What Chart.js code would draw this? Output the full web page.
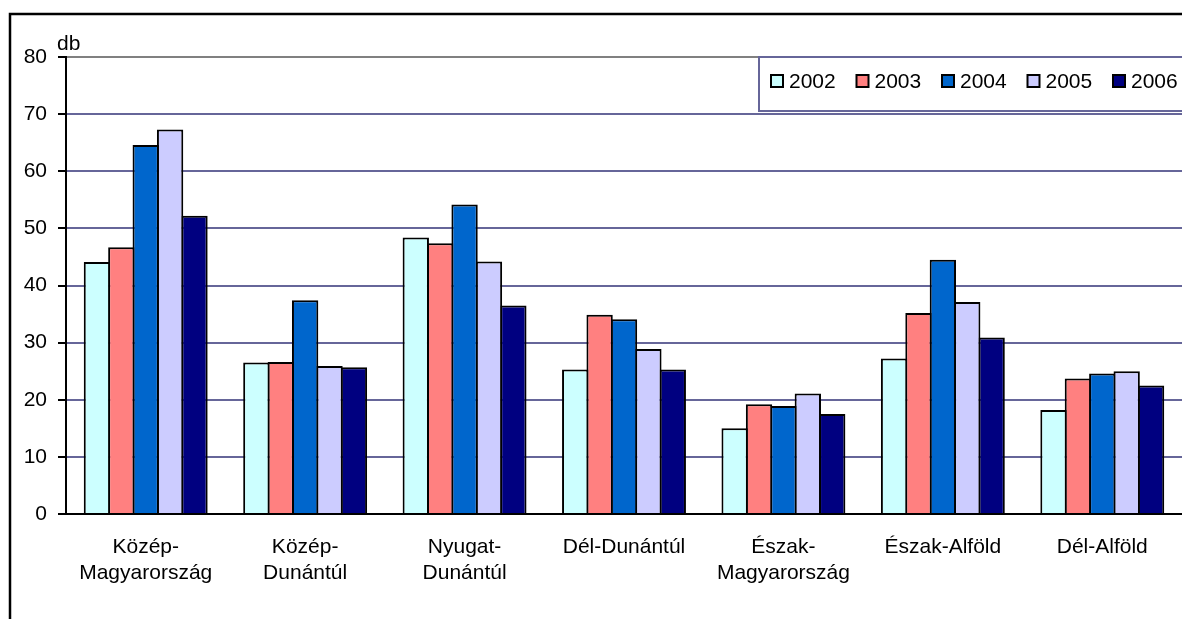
<!DOCTYPE html>
<html>
<head>
<meta charset="utf-8">
<script src="https://cdn.jsdelivr.net/npm/chart.js@4.4.0/dist/chart.umd.min.js"></script>
<style>
  html, body { margin: 0; padding: 0; background: #fff; overflow: hidden; }
</style>
</head>
<body>
<canvas id="chart" width="1182" height="619"></canvas>
<script>
// Regions
const regions = [
  ["Közép-", "Magyarország"],
  ["Közép-", "Dunántúl"],
  ["Nyugat-", "Dunántúl"],
  "Dél-Dunántúl",
  ["Észak-", "Magyarország"],
  "Észak-Alföld",
  "Dél-Alföld",
];

// Years (series)
const years = ["2002", "2003", "2004", "2005", "2006"];

// Values per year, in region order (db)
const v2002 = [44.1, 26.5, 48.4, 25.3, 15.0, 27.2, 18.2];
const v2003 = [46.7, 26.6, 47.4, 34.9, 19.2, 35.2, 23.7];
const v2004 = [64.6, 37.4, 54.2, 34.1, 18.9, 44.5, 24.6];
const v2005 = [67.3, 25.9, 44.2, 28.9, 21.1, 37.1, 25.0];
const v2006 = [52.2, 25.7, 36.5, 25.3, 17.5, 30.9, 22.5];

// Y axis
const yMin = 0;
const yMax = 80;
const yStep = 10;
const yUnit = "db";

const seriesValues = [v2002, v2003, v2004, v2005, v2006];
const barColors = ["#CCFFFF", "#FF8080", "#0066CC", "#CCCCFF", "#000080"];

const font = '"Liberation Sans", Arial, sans-serif';

// Outer frame + unit label
const framePlugin = {
  id: "frame",
  afterDraw(chart) {
    const ctx = chart.ctx;
    ctx.save();
    ctx.strokeStyle = "#000";
    ctx.lineWidth = 2.5;
    ctx.strokeRect(10, 14, 1400, 1400);
    ctx.fillStyle = "#000";
    ctx.font = "21px " + font;
    ctx.textAlign = "left";
    ctx.textBaseline = "middle";
    ctx.fillText(yUnit, chart.chartArea.left - 9, 44);
    ctx.restore();
  },
};

// Legend box drawn inside the plot, like the original
const legendPlugin = {
  id: "boxLegend",
  afterDraw(chart) {
    const ctx = chart.ctx;
    const top = chart.chartArea.top;
    ctx.save();
    ctx.fillStyle = "#fff";
    ctx.fillRect(759, top, 440, 54);
    ctx.strokeStyle = "#666699";
    ctx.lineWidth = 2;
    ctx.strokeRect(759, top, 440, 54);
    ctx.font = "21px " + font;
    ctx.textBaseline = "middle";
    ctx.textAlign = "left";
    chart.data.datasets.forEach((ds, i) => {
      const x = 771 + i * 85.5;
      const y = top + 18;
      ctx.fillStyle = ds.backgroundColor;
      ctx.fillRect(x, y, 12, 12);
      ctx.strokeStyle = "#000";
      ctx.lineWidth = 2;
      ctx.strokeRect(x, y, 12, 12);
      ctx.fillStyle = "#000";
      ctx.fillText(ds.label, x + 18, y + 7);
    });
    ctx.restore();
  },
};

const myChart = new Chart(document.getElementById("chart"), {
  type: "bar",
  plugins: [framePlugin, legendPlugin],
  data: {
    labels: regions,
    datasets: years.map((year, i) => ({
      label: year,
      data: seriesValues[i],
      backgroundColor: barColors[i],
      borderColor: "#000",
      borderWidth: 2,
      borderSkipped: "bottom",
      categoryPercentage: 0.765,
      barPercentage: 1.08,
    })),
  },
  options: {
    responsive: false,
    animation: false,
    layout: { padding: { top: 57, right: 0, bottom: 0, left: 0 } },
    plugins: {
      legend: { display: false },
      tooltip: { enabled: false },
    },
    scales: {
      x: {
        afterFit: (scale) => { scale.height = 105; },
        grid: { display: false, drawTicks: false },
        border: { display: true, color: "#000", width: 2 },
        ticks: {
          color: "#000",
          padding: 20,
          autoSkip: false,
          maxRotation: 0,
          font: { family: font, size: 21, lineHeight: 1.25 },
        },
      },
      y: {
        min: yMin,
        max: yMax,
        afterFit: (scale) => { scale.width = 66; },
        grid: {
          color: (c) => {
            if (c.tick && c.tick.value === yMax) return "#808080";
            if (c.tick && c.tick.value === yMin) return "#000";
            return "#666699";
          },
          lineWidth: 2,
          tickColor: "#000",
          tickWidth: 2,
          tickLength: 8,
        },
        border: { display: true, color: "#000", width: 2 },
        ticks: {
          stepSize: yStep,
          color: "#000",
          padding: 11,
          font: { family: font, size: 21 },
        },
      },
    },
  },
});
</script>
</body>
</html>
